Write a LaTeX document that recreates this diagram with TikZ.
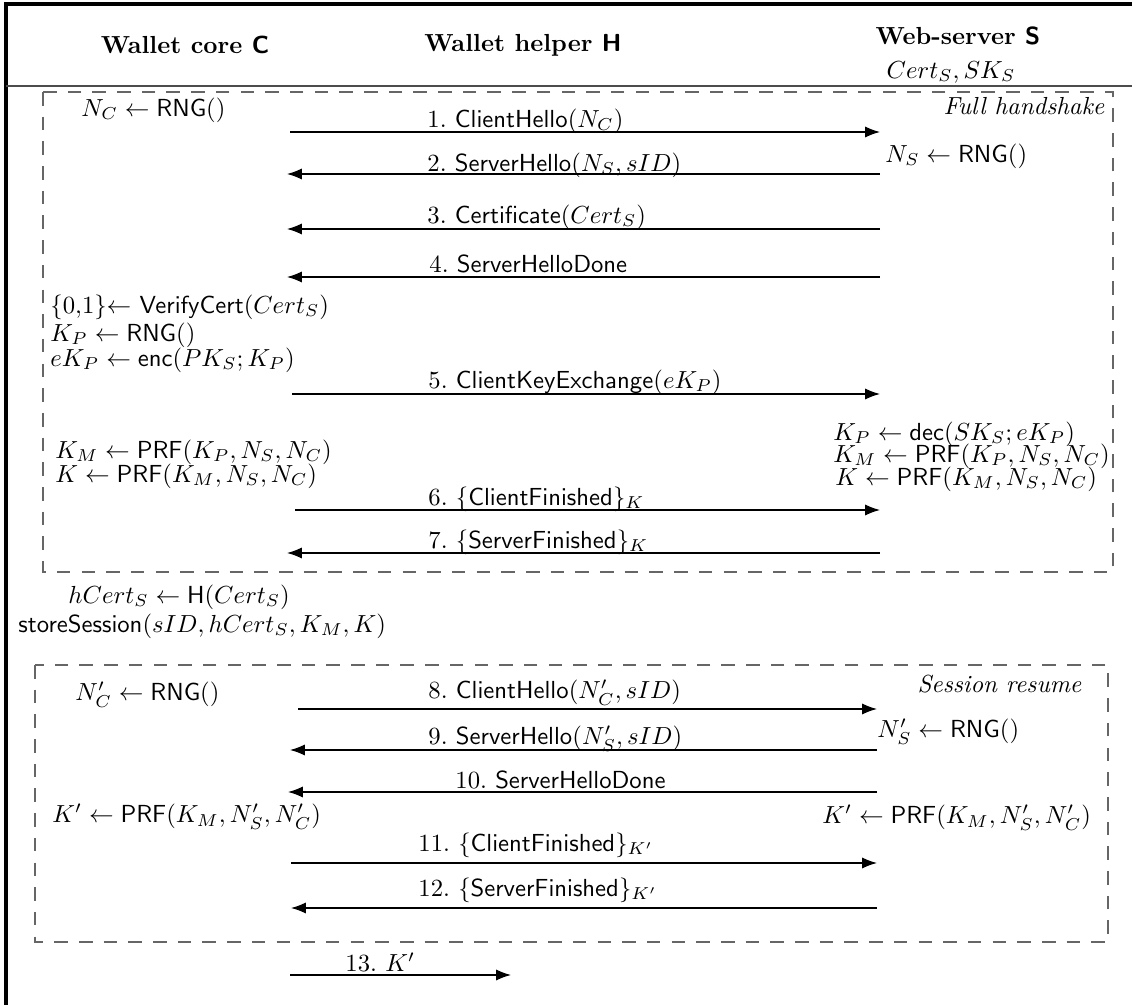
\documentclass[tikz,border=0pt]{standalone}
\usetikzlibrary{arrows.meta}
\begin{document}
\begin{tikzpicture}[x=0.405pt, y=-0.405pt,
  msg/.style={-{Latex[length=6pt,width=4.5pt]}, line width=0.5pt},
  lbl/.style={anchor=west, inner sep=0pt},
  hdr/.style={inner sep=0pt, font=\bfseries},
  phase/.style={draw=black!60, dash pattern=on 5.5pt off 4.5pt, line width=0.6pt}]
\useasboundingbox (0,0) rectangle (1132,1005);

% outer frame and header rule
\draw[line width=1.3pt] (6,1005) -- (6,4) -- (1132,4);
\draw[black!70, line width=0.5pt] (6,86) -- (1132,86);

% parties
\node[hdr] (hc) at (185,45) {Wallet core \textsf{C}};
\node[hdr] (hh) at (523,45) {Wallet helper \textsf{H}};
\node[hdr] (hs) at (958,36) {Web-server \textsf{S}};
\node[inner sep=0pt] (keys) at (951,72) {$Cert_S, SK_S$};

% phase frames
\draw[phase] (43,92) rectangle (1113,572);
\node[anchor=east, inner sep=0pt] (full) at (1105,106) {\textit{Full handshake}};
\draw[phase] (35,665) rectangle (1108,942);
\node[anchor=east, inner sep=0pt] (resume) at (1082,684) {\textit{Session resume}};

% ---------- full handshake ----------
\node[lbl] (nc) at (81,110) {$N_C \leftarrow \mathsf{RNG}()$};

\coordinate (c1) at (290,132); \coordinate (s1) at (880,132);
\draw[msg] (c1) -- (s1);
\node[lbl] (m1) at (427,121) {1.\ $\mathsf{ClientHello}(N_C)$};

\node[lbl] (ns) at (885,156) {$N_S \leftarrow \mathsf{RNG}()$};

\coordinate (c2) at (287,174); \coordinate (s2) at (880,174);
\draw[msg] (s2) -- (c2);
\node[lbl] (m2) at (427,165) {2.\ $\mathsf{ServerHello}(N_S, sID)$};

\coordinate (c3) at (287,229); \coordinate (s3) at (880,229);
\draw[msg] (s3) -- (c3);
\node[lbl] (m3) at (427,217) {3.\ $\mathsf{Certificate}(Cert_S)$};

\coordinate (c4) at (287,277); \coordinate (s4) at (880,277);
\draw[msg] (s4) -- (c4);
\node[lbl] (m4) at (429,264) {4.\ $\mathsf{ServerHelloDone}$};

\node[lbl] (vc) at (50,307) {$\{0{,}1\}{\leftarrow}\ \mathsf{VerifyCert}(Cert_S)$};
\node[lbl] (kp) at (50,335) {$K_P \leftarrow \mathsf{RNG}()$};
\node[lbl] (ekp) at (50,360) {$eK_P \leftarrow \mathsf{enc}(PK_S; K_P)$};

\coordinate (c5) at (292,394); \coordinate (s5) at (880,394);
\draw[msg] (c5) -- (s5);
\node[lbl] (m5) at (428,382) {5.\ $\mathsf{ClientKeyExchange}(eK_P)$};

\node[lbl] (kps) at (833,434) {$K_P \leftarrow \mathsf{dec}(SK_S; eK_P)$};
\node[lbl] (kms) at (833,456) {$K_M \leftarrow \mathsf{PRF}(K_P, N_S, N_C)$};
\node[lbl] (ks) at (835,479) {$K \leftarrow \mathsf{PRF}(K_M, N_S, N_C)$};

\node[lbl] (kmc) at (55,452) {$K_M \leftarrow \mathsf{PRF}(K_P, N_S, N_C)$};
\node[lbl] (kc) at (55,476) {$K \leftarrow \mathsf{PRF}(K_M, N_S, N_C)$};

\coordinate (c6) at (295,510); \coordinate (s6) at (880,510);
\draw[msg] (c6) -- (s6);
\node[lbl] (m6) at (428,499) {6.\ $\{\mathsf{ClientFinished}\}_K$};

\coordinate (c7) at (287,553); \coordinate (s7) at (880,553);
\draw[msg] (s7) -- (c7);
\node[lbl] (m7) at (428,542) {7.\ $\{\mathsf{ServerFinished}\}_K$};

% ---------- between the phases ----------
\node[lbl] (hcert) at (68,597) {$hCert_S \leftarrow \mathsf{H}(Cert_S)$};
\node[lbl] (store) at (18,626) {$\mathsf{storeSession}(sID, hCert_S, K_M, K)$};

% ---------- session resume ----------
\node[lbl] (ncp) at (75,695) {$N'_C \leftarrow \mathsf{RNG}()$};

\coordinate (c8) at (298,709); \coordinate (s8) at (877,709);
\draw[msg] (c8) -- (s8);
\node[lbl] (m8) at (428,693) {8.\ $\mathsf{ClientHello}(N'_C, sID)$};

\node[lbl] (nsp) at (877,732) {$N'_S \leftarrow \mathsf{RNG}()$};

\coordinate (c9) at (290,750); \coordinate (s9) at (877,750);
\draw[msg] (s9) -- (c9);
\node[lbl] (m9) at (428,739) {9.\ $\mathsf{ServerHello}(N'_S, sID)$};

\coordinate (c10) at (288,792); \coordinate (s10) at (877,792);
\draw[msg] (s10) -- (c10);
\node[lbl] (m10) at (455,780) {10.\ $\mathsf{ServerHelloDone}$};

\node[lbl] (kpc) at (52,817) {$K' \leftarrow \mathsf{PRF}(K_M, N'_S, N'_C)$};
\node[lbl] (kpsv) at (822,818) {$K' \leftarrow \mathsf{PRF}(K_M, N'_S, N'_C)$};

\coordinate (c11) at (291,863); \coordinate (s11) at (877,863);
\draw[msg] (c11) -- (s11);
\node[lbl] (m11) at (418,845) {11.\ $\{\mathsf{ClientFinished}\}_{K'}$};

\coordinate (c12) at (291,908); \coordinate (s12) at (877,908);
\draw[msg] (s12) -- (c12);
\node[lbl] (m12) at (418,890) {12.\ $\{\mathsf{ServerFinished}\}_{K'}$};

% ---------- handing the key to the helper ----------
\coordinate (c13) at (290,975); \coordinate (h13) at (511,975);
\draw[msg] (c13) -- (h13);
\node[lbl] (m13) at (345,962) {13.\ $K'$};
\end{tikzpicture}
\end{document}
